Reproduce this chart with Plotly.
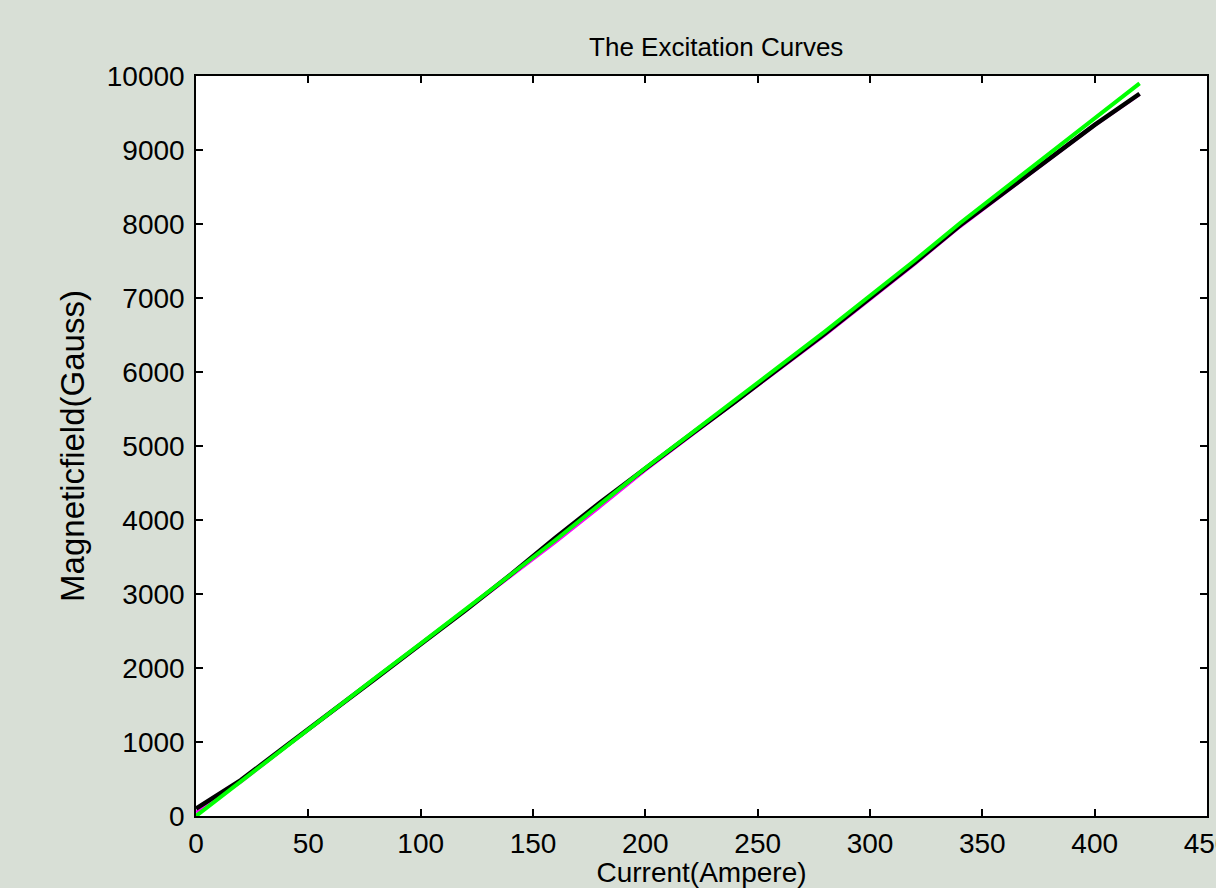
import plotly.graph_objects as go

# Excitation curves: magnetic field vs. coil current
current = [0, 20, 40, 60, 80, 100, 120, 140, 160, 180, 200,
           220, 240, 260, 280, 300, 320, 340, 360, 380, 400, 420]

field_black = [100, 485, 945, 1410, 1860, 2320, 2780, 3260, 3760, 4240, 4700,
               5150, 5600, 6060, 6520, 7000, 7480, 7980, 8430, 8890, 9340, 9760]

field_magenta = [50, 460, 930, 1390, 1850, 2310, 2770, 3240, 3700, 4180, 4670,
                 5130, 5590, 6040, 6500, 6980, 7460, 7960, 8420, 8880, 9330, 9750]

field_green = [0, 470, 940, 1410, 1870, 2330, 2790, 3260, 3730, 4210, 4700,
               5160, 5620, 6080, 6550, 7030, 7510, 8010, 8480, 8950, 9420, 9900]

x_ticks = [0, 50, 100, 150, 200, 250, 300, 350, 400, 450]
y_ticks = [0, 1000, 2000, 3000, 4000, 5000, 6000, 7000, 8000, 9000, 10000]

font_family = "Liberation Sans, Arial, sans-serif"

fig = go.Figure()
fig.add_trace(go.Scatter(x=current, y=field_magenta, mode="lines",
                         line=dict(color="#ff00ff", width=3), showlegend=False))
fig.add_trace(go.Scatter(x=current, y=field_black, mode="lines",
                         line=dict(color="#000000", width=4.5), showlegend=False))
fig.add_trace(go.Scatter(x=current, y=field_green, mode="lines",
                         line=dict(color="#00ff00", width=4), showlegend=False))

axis_common = dict(
    showgrid=False, zeroline=False, automargin=False,
    showline=True, linecolor="black", linewidth=1.5, mirror="ticks",
    ticks="inside", ticklen=7, tickwidth=1.5, tickcolor="black",
    tickfont=dict(family=font_family, size=28, color="black"),
    ticklabeloverflow="allow",
)

fig.update_layout(
    width=1216, height=888,
    margin=dict(l=196, r=9, t=76, b=72),
    paper_bgcolor="#d8dfd6",
    plot_bgcolor="white",
    title=dict(text="The Excitation Curves", x=0.589, xanchor="center",
               y=0.947, yanchor="middle",
               font=dict(family=font_family, size=26, color="black")),
    xaxis=dict(range=[0, 450], tickvals=x_ticks,
               ticktext=[str(v) for v in x_ticks],
               ticklabelstandoff=2,
               title=dict(text="Current(Ampere)", standoff=8,
                          font=dict(family=font_family, size=28, color="black")),
               **axis_common),
    yaxis=dict(range=[0, 10000], tickvals=y_ticks,
               ticktext=[str(v) for v in y_ticks],
               ticklabelstandoff=4,
               title=dict(text="Magneticfield(Gauss)", standoff=12,
                          font=dict(family=font_family, size=33, color="black")),
               **axis_common),
)

fig.write_html("out.html")
